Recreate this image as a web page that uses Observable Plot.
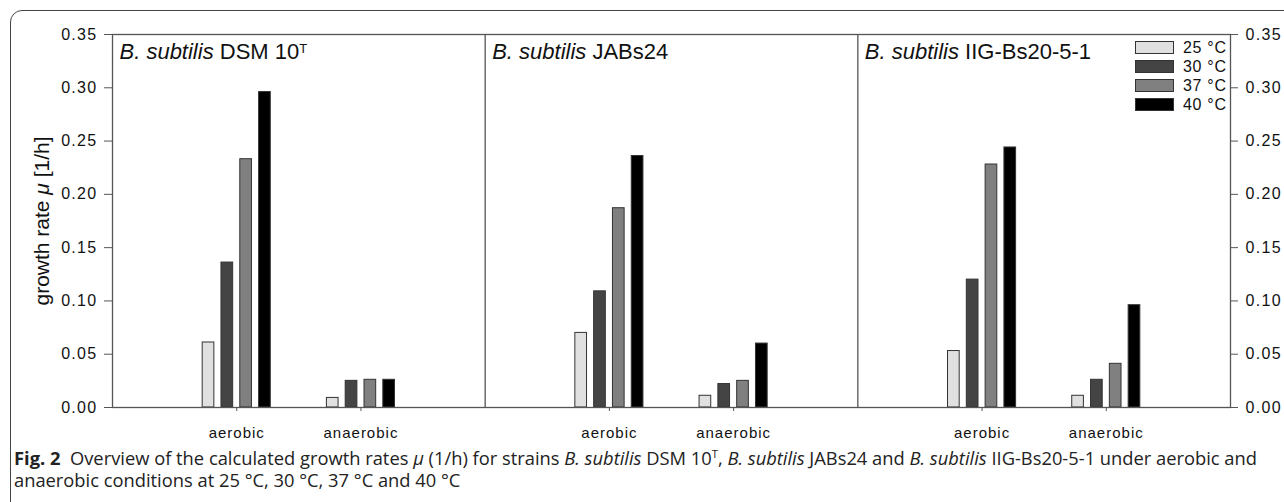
<!DOCTYPE html>
<html>
<head>
<meta charset="utf-8">
<script src="https://cdn.jsdelivr.net/npm/d3@7"></script>
<script src="https://cdn.jsdelivr.net/npm/@observablehq/plot@0.6"></script>
<style>
  html, body { margin: 0; padding: 0; background: #fff; overflow: hidden; }
  #wrap { position: relative; width: 1284px; height: 502px; overflow: hidden; }
  #border { position: absolute; left: 10px; top: 10px; width: 1320px; height: 540px;
            border: 1.3px solid #444; border-radius: 12px; box-sizing: border-box; }
  #chart { position: absolute; left: 0; top: 0; }
  #chart svg { overflow: visible; }
  .sw { position: absolute; width: 39px; height: 13px; box-sizing: border-box; border: 1px solid #333; }
  .lg { position: absolute; font: 16px "Liberation Sans", Arial, sans-serif; letter-spacing: 0.7px; color: #111; line-height: 16px; }
  #caption { position: absolute; left: 14px; top: 447px; font-family: "Open Sans", sans-serif; font-size: 18px;
             line-height: 22px; color: #222; white-space: nowrap; transform-origin: 0 0; }
  #caption sup { font-size: 11px; line-height: 0; vertical-align: 7px; }
</style>
</head>
<body>
<div id="wrap">
  <div id="border"></div>
  <div id="chart"></div>
  <div id="legend"></div>
  <div id="caption"><b>Fig. 2</b>&nbsp; Overview of the calculated growth rates <i>μ</i> (1/h) for strains <i>B. subtilis</i> DSM 10<sup>T</sup>, <i>B. subtilis</i> JABs24 and <i>B. subtilis</i> IIG-Bs20-5-1 under aerobic and<br>anaerobic conditions at 25 °C, 30 °C, 37 °C and 40 °C</div>
</div>
<script>
// ---- data ----
const strains = ["DSM 10", "JABs24", "IIG-Bs20-5-1"];
const strainSuperscripts = ["T", "", ""];
const conditions = ["aerobic", "anaerobic"];
const temperatures = ["25 °C", "30 °C", "37 °C", "40 °C"];
const dsm10Aerobic = [0.061, 0.136, 0.233, 0.296];
const dsm10Anaerobic = [0.009, 0.025, 0.026, 0.026];
const jabs24Aerobic = [0.070, 0.109, 0.187, 0.236];
const jabs24Anaerobic = [0.011, 0.022, 0.025, 0.060];
const iigAerobic = [0.053, 0.120, 0.228, 0.244];
const iigAnaerobic = [0.011, 0.026, 0.041, 0.096];
const yTicks = [0, 0.05, 0.10, 0.15, 0.20, 0.25, 0.30, 0.35];

const seriesByStrain = [
  [dsm10Aerobic, dsm10Anaerobic],
  [jabs24Aerobic, jabs24Anaerobic],
  [iigAerobic, iigAnaerobic]
];
const barColors = ["#e0e0e0", "#444444", "#808080", "#000000"];

// ---- layout in x-units: each strain panel spans 3 units, conditions at 1 and 2 ----
const slot = 0.1514, bw = 0.094;
const rows = [];
strains.forEach((s, i) => conditions.forEach((c, j) => temperatures.forEach((t, k) => {
  rows.push({strain: s, condition: c, temp: t, value: seriesByStrain[i][j][k],
             pos: i * 3 + j + 1 + (k - 1.5) * slot});
})));
const condTicks = [];
strains.forEach((s, i) => conditions.forEach((c, j) => condTicks.push({p: i * 3 + j + 1, label: c})));
const dividers = strains.slice(1).map((s, i) => (i + 1) * 3);
const titles = strains.map((s, i) => ({x: i * 3, label: "B. subtilis " + s}));

const gray = "#555";
const chart = Plot.plot({
  width: 1284, height: 445,
  marginLeft: 112, marginRight: 54, marginTop: 34, marginBottom: 38,
  style: {fontFamily: "'Liberation Sans', Arial, sans-serif", color: "#111", background: "transparent"},
  x: {domain: [0, strains.length * 3], axis: null},
  y: {domain: [0, 0.35], axis: null},
  color: {domain: temperatures, range: barColors},
  marks: [
    Plot.rectY(rows, {x1: d => d.pos - bw / 2, x2: d => d.pos + bw / 2, y: "value", fill: "temp", stroke: "#333", strokeWidth: 1}),
    Plot.ruleX(dividers, {stroke: gray, strokeWidth: 1.3}),
    Plot.frame({stroke: gray, strokeWidth: 1.3}),
    Plot.axisY({anchor: "left", ticks: yTicks, tickFormat: d3.format(".2f"), tickSize: 8, tickPadding: 7, label: null,
                fontSize: 16, stroke: gray}),
    Plot.axisY({anchor: "right", ticks: yTicks, tickFormat: d3.format(".2f"), tickSize: 7, tickPadding: 8, label: null,
                fontSize: 16, stroke: gray}),
    Plot.axisX({ticks: condTicks.map(d => d.p), tickFormat: (d, i) => condTicks[i].label, tickSize: 4, tickPadding: 16,
                label: null, fontSize: 15, stroke: gray}),
    Plot.text(titles, {x: "x", y: 0.35, text: "label", dx: 7, dy: 9, lineAnchor: "top", textAnchor: "start", fontSize: 22, fill: "#111"}),
    Plot.text(["growth rate μ [1/h]"], {frameAnchor: "left", textAnchor: "middle", rotate: -90, dx: -70, fontSize: 21, fill: "#111"})
  ]
});
document.getElementById("chart").appendChild(chart);

// letter spacing for axis tick labels (original chart text is horizontally wide)
d3.select(chart).selectAll("[aria-label='y-axis tick label'] text").style("letter-spacing", "1.3px");
d3.select(chart).selectAll("[aria-label='x-axis tick label'] text").style("letter-spacing", "1px");

// rich text: italics and superscripts
d3.select(chart).selectAll("text").each(function() {
  const t = this.textContent;
  const idx = titles.findIndex(d => d.label === t);
  if (idx >= 0) {
    const sel = d3.select(this);
    sel.text(null);
    sel.append("tspan").attr("font-style", "italic").text("B. subtilis");
    sel.append("tspan").text(" " + strains[idx]);
    if (strainSuperscripts[idx]) sel.append("tspan").attr("dy", "-0.45em").attr("font-size", 13).text(strainSuperscripts[idx]);
  } else if (t === "growth rate μ [1/h]") {
    const sel = d3.select(this);
    sel.text(null);
    sel.append("tspan").text("growth rate ");
    sel.append("tspan").attr("font-style", "italic").text("μ");
    sel.append("tspan").text(" [1/h]");
  }
});

// legend
const legend = document.getElementById("legend");
temperatures.forEach((t, k) => {
  const top = 41 + k * 19;
  const sw = document.createElement("div");
  sw.className = "sw";
  sw.style.left = "1135px"; sw.style.top = top + "px"; sw.style.background = barColors[k];
  legend.appendChild(sw);
  const lb = document.createElement("div");
  lb.className = "lg";
  lb.style.left = "1183px"; lb.style.top = (top - 1) + "px";
  lb.textContent = t;
  legend.appendChild(lb);
});

// caption: fit first line to the reference width
const cap = document.getElementById("caption");
const w = cap.getBoundingClientRect().width;
cap.style.transform = "scaleX(" + (1243 / w) + ")";
</script>
</body>
</html>
